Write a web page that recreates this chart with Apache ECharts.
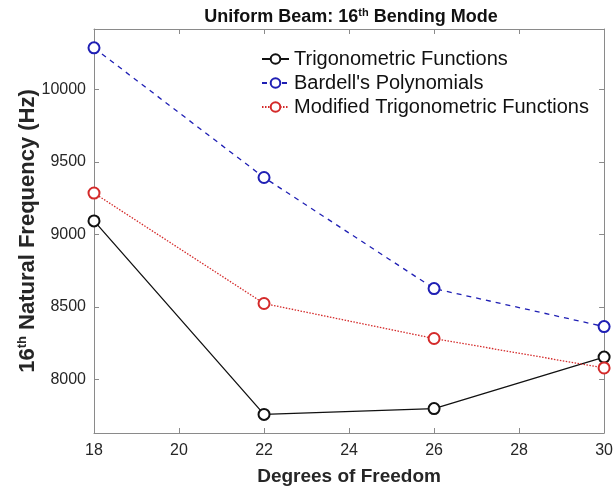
<!DOCTYPE html>
<html>
<head>
<meta charset="utf-8">
<script src="https://cdn.jsdelivr.net/npm/echarts@6/dist/echarts.min.js"></script>
<style>html,body{margin:0;padding:0;background:#fff}#c{width:616px;height:491px}</style>
</head>
<body>
<div id="c"></div>
<script>
var dof = [18, 22, 26, 30];
var trigonometric = [9093, 7760, 7800, 8155];
var bardell = [10285, 9392, 8627, 8365];
var modifiedTrig = [9285, 8524, 8283, 8080];
var yTicks = [8000, 8500, 9000, 9500, 10000];
var xTicks = [18, 20, 22, 24, 26, 28, 30];

function pairs(xs, ys) { return xs.map(function (x, i) { return [x, ys[i]]; }); }
function plain(v) { return String(v); }

var font = 'Arial, "Liberation Sans", sans-serif';
var axisGray = '#8a8a8a';
var txt = '#262626';

var chart = echarts.init(document.getElementById('c'), null, { renderer: 'canvas' });

function mkSeries(name, data, color, type) {
  return {
    name: name, type: 'line', data: pairs(dof, data),
    symbol: 'emptyCircle', symbolSize: 11,
    lineStyle: { color: color, width: 1.3, type: type },
    itemStyle: { color: color, borderColor: color, borderWidth: 1.5 },
    emphasis: { disabled: true },
    animation: false
  };
}

chart.setOption({
  animation: false,
  title: {
    text: '{b|Uniform Beam: 16}{s|th}{b| Bending Mode}',
    left: 346, top: 2, textAlign: 'center',
    textStyle: {
      rich: {
        b: { fontFamily: font, fontWeight: 'bold', fontSize: 18, color: '#111' },
        s: { fontFamily: font, fontWeight: 'bold', fontSize: 11, color: '#111', padding: [0, 0, 10, 0] }
      }
    }
  },
  legend: {
    orient: 'vertical', left: 256, top: 44, itemGap: 4, itemWidth: 27, itemHeight: 12,
    textStyle: { fontFamily: font, fontSize: 20, color: '#111' },
    data: ['Trigonometric Functions', "Bardell's Polynomials", 'Modified Trigonometric Functions']
  },
  grid: { left: 94, right: 4, top: 29, bottom: 55, containLabel: false },
  xAxis: [{
    type: 'value', min: 18, max: 30, interval: 2,
    name: 'Degrees of Freedom', nameLocation: 'middle', nameGap: 34,
    nameTextStyle: { fontFamily: font, fontWeight: 'bold', fontSize: 19, color: txt },
    axisLine: { show: true, onZero: false, lineStyle: { color: axisGray, width: 1 } },
    axisTick: { show: true, inside: true, length: 5, lineStyle: { color: axisGray } },
    axisLabel: { fontFamily: font, fontSize: 16, color: txt, margin: 10, showMaxLabel: true, formatter: plain },
    splitLine: { show: false }
  }, {
    type: 'value', min: 18, max: 30, interval: 2, position: 'top',
    axisLine: { show: true, onZero: false, lineStyle: { color: axisGray, width: 1 } },
    axisTick: { show: true, inside: true, length: 5, lineStyle: { color: axisGray } },
    axisLabel: { show: false }, splitLine: { show: false }
  }],
  yAxis: [{
    type: 'value', min: 7632, max: 10415,
    name: '{n|16}{s|th}{n| Natural Frequency (Hz)}', nameLocation: 'middle', nameGap: 54,
    nameMoveOverlap: false,
    nameTextStyle: {
      rich: {
        n: { fontFamily: font, fontWeight: 'bold', fontSize: 22, color: txt },
        s: { fontFamily: font, fontWeight: 'bold', fontSize: 13, color: txt, padding: [0, 0, 11, 0] }
      }
    },
    axisLine: { show: true, onZero: false, lineStyle: { color: axisGray, width: 1 } },
    axisTick: { show: true, inside: true, length: 5, lineStyle: { color: axisGray }, customValues: yTicks },
    axisLabel: { fontFamily: font, fontSize: 16, color: txt, margin: 8, customValues: yTicks, formatter: plain },
    splitLine: { show: false }
  }, {
    type: 'value', min: 7632, max: 10415, position: 'right',
    axisLine: { show: true, onZero: false, lineStyle: { color: axisGray, width: 1 } },
    axisTick: { show: true, inside: true, length: 5, lineStyle: { color: axisGray }, customValues: yTicks },
    axisLabel: { show: false }, splitLine: { show: false }
  }],
  series: [
    mkSeries('Trigonometric Functions', trigonometric, '#111111', 'solid'),
    mkSeries("Bardell's Polynomials", bardell, '#1f1fb4', [5, 5]),
    mkSeries('Modified Trigonometric Functions', modifiedTrig, '#d42a2a', [1.5, 1.5])
  ]
});
</script>
</body>
</html>
